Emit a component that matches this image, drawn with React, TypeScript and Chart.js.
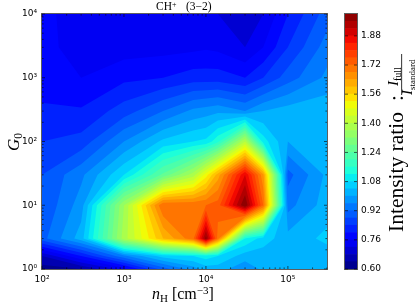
import React, { useEffect, useRef } from "react";
import { Chart, registerables } from "chart.js";

Chart.register(...registerables);

const densities = [100, 300, 1000, 3000, 7000, 10000, 14000, 30000, 50000, 100000, 300000];
const radiation = [1, 1.6, 3, 10, 30, 100, 300, 1000, 3000, 10000];
// rows follow `radiation` (bottom to top), columns follow `densities`
const row1 = [0.62, 0.64, 0.74, 0.9, 0.98, 1.02, 1.02, 0.97, 1.01, 1.01, 1.02];
const row1p6 = [0.68, 0.8, 0.95, 1.06, 1.08, 1.1, 1.08, 1.02, 1.02, 1.02, 1.02];
const row3 = [0.905, 1.02, 1.38, 1.6, 1.71, 1.98, 1.7, 1.12, 1.06, 1.015, 1.05];
const row10 = [0.883, 0.98, 1.36, 1.72, 1.715, 1.72, 1.74, 2.0, 1.72, 0.945, 1.02];
const row30 = [0.88, 0.95, 1.08, 1.25, 1.38, 1.5, 1.62, 1.88, 1.65, 0.905, 1.01];
const row100 = [0.84, 0.855, 0.96, 1.05, 1.08, 1.09, 1.15, 1.4, 1.1, 1.0, 1.01];
const row300 = [0.805, 0.805, 0.86, 0.92, 0.97, 0.98, 0.99, 0.96, 1.0, 1.02, 1.03];
const row1000 = [0.785, 0.76, 0.79, 0.8, 0.82, 0.82, 0.82, 0.8, 0.84, 0.9, 0.97];
const row3000 = [0.775, 0.74, 0.74, 0.745, 0.75, 0.755, 0.75, 0.72, 0.76, 0.84, 0.94];
const row10000 = [0.78, 0.725, 0.73, 0.74, 0.74, 0.74, 0.72, 0.69, 0.72, 0.8, 0.9];
const grid = [row1, row1p6, row3, row10, row30, row100, row300, row1000, row3000, row10000];

const levels = [
  0.6, 0.64, 0.68, 0.72, 0.76, 0.8, 0.84, 0.88, 0.92, 0.96, 1.0, 1.04, 1.08, 1.12, 1.16, 1.2, 1.24, 1.28,
  1.32, 1.36, 1.4, 1.44, 1.48, 1.52, 1.56, 1.6, 1.64, 1.68, 1.72, 1.76, 1.8, 1.84, 1.88, 1.92, 1.96, 2.0,
];
const colorbarTicks = [0.6, 0.76, 0.92, 1.08, 1.24, 1.4, 1.56, 1.72, 1.88];
const xMajor = [100, 1000, 10000, 100000];
const xMinor = [200, 300, 400, 500, 600, 700, 800, 900, 2000, 3000, 4000, 5000, 6000, 7000, 8000, 9000, 20000, 30000, 40000, 50000, 60000, 70000, 80000, 90000, 200000, 300000];
const yMajor = [1, 10, 100, 1000, 10000];
const yMinor = [2, 3, 4, 5, 6, 7, 8, 9, 20, 30, 40, 50, 60, 70, 80, 90, 200, 300, 400, 500, 600, 700, 800, 900, 2000, 3000, 4000, 5000, 6000, 7000, 8000, 9000];
const supers: Record<string, string> = { "0": "⁰", "1": "¹", "2": "²", "3": "³", "4": "⁴", "5": "⁵" };

const SERIF = '"Liberation Serif"';
const SANS = '"DejaVu Sans"';

function ramp(f: number, pts: number[][]) {
  for (let i = 1; i < pts.length; i++) {
    if (f <= pts[i][0]) {
      const t = (f - pts[i - 1][0]) / (pts[i][0] - pts[i - 1][0]);
      return pts[i - 1][1] + t * (pts[i][1] - pts[i - 1][1]);
    }
  }
  return pts[pts.length - 1][1];
}
function jet(f: number): string {
  const r = ramp(f, [[0, 0], [0.35, 0], [0.66, 1], [0.89, 1], [1, 0.5]]) * 255;
  const g = ramp(f, [[0, 0], [0.125, 0], [0.375, 1], [0.64, 1], [0.91, 0], [1, 0]]) * 255;
  const b = ramp(f, [[0, 0.5], [0.11, 1], [0.34, 1], [0.65, 0], [1, 0]]) * 255;
  return `rgb(${Math.round(r)},${Math.round(g)},${Math.round(b)})`;
}
const bandColors = levels.slice(0, -1).map((_, i) => jet((i + 0.5) / (levels.length - 1)));

const contourPlugin = {
  id: "contour",
  beforeDatasetsDraw(chart: any) {
    const { ctx, chartArea: a, scales } = chart;
    const px = densities.map((d) => scales.x.getPixelForValue(d));
    const py = radiation.map((d) => scales.y.getPixelForValue(d));
    ctx.save();
    ctx.fillStyle = bandColors[0];
    ctx.fillRect(a.left, a.top, a.right - a.left, a.bottom - a.top);
    for (let k = 1; k < bandColors.length; k++) {
      const L = levels[k];
      ctx.beginPath();
      for (let j = 0; j < radiation.length - 1; j++) {
        for (let i = 0; i < densities.length - 1; i++) {
          const cx = [px[i], px[i + 1], px[i + 1], px[i]];
          const cy = [py[j], py[j], py[j + 1], py[j + 1]];
          const z = [grid[j][i], grid[j][i + 1], grid[j + 1][i + 1], grid[j + 1][i]];
          const up = z.map((v) => v >= L);
          const cross = (e: number) => {
            const f = (e + 1) % 4;
            const t = (L - z[e]) / (z[f] - z[e]);
            return [cx[e] + t * (cx[f] - cx[e]), cy[e] + t * (cy[f] - cy[e])];
          };
          const add = (pts: number[][]) => {
            pts.forEach((p, n) => (n ? ctx.lineTo(p[0], p[1]) : ctx.moveTo(p[0], p[1])));
            ctx.closePath();
          };
          const count = up.filter(Boolean).length;
          if (count === 0) continue;
          const mean = (z[0] + z[1] + z[2] + z[3]) / 4;
          if (count === 2 && up[0] === up[2] && mean < L) {
            for (let c = 0; c < 4; c++) {
              if (up[c]) add([cross((c + 3) % 4), [cx[c], cy[c]], cross(c)]);
            }
            continue;
          }
          const pts: number[][] = [];
          for (let c = 0; c < 4; c++) {
            if (up[c]) pts.push([cx[c], cy[c]]);
            if (up[c] !== up[(c + 1) % 4]) pts.push(cross(c));
          }
          add(pts);
        }
      }
      ctx.fillStyle = bandColors[k];
      ctx.fill();
    }
    ctx.restore();
  },
};

function runs(ctx: any, x: number, y: number, angle: number, parts: any[]) {
  ctx.save();
  ctx.translate(x, y);
  ctx.rotate(angle);
  ctx.textAlign = "left";
  ctx.textBaseline = "alphabetic";
  let cx = 0;
  for (const [t, style, size, dy] of parts) {
    ctx.font = `${style} ${size}px ${SERIF}`;
    ctx.fillText(t, cx, dy);
    cx += ctx.measureText(t).width;
  }
  ctx.restore();
}

const framePlugin = {
  id: "frame",
  afterDraw(chart: any) {
    const { ctx, chartArea: a, scales } = chart;
    ctx.save();
    ctx.strokeStyle = "#000";
    ctx.lineWidth = 0.6;
    ctx.beginPath();
    const tick = (v: number, len: number, horizontal: boolean) => {
      if (horizontal) {
        const x = scales.x.getPixelForValue(v);
        ctx.moveTo(x, a.bottom); ctx.lineTo(x, a.bottom - len);
        ctx.moveTo(x, a.top); ctx.lineTo(x, a.top + len);
      } else {
        const y = scales.y.getPixelForValue(v);
        ctx.moveTo(a.left, y); ctx.lineTo(a.left + len, y);
        ctx.moveTo(a.right, y); ctx.lineTo(a.right - len, y);
      }
    };
    xMajor.forEach((v) => tick(v, 3, true));
    xMinor.forEach((v) => tick(v, 1.6, true));
    yMajor.forEach((v) => tick(v, 3, false));
    yMinor.forEach((v) => tick(v, 1.6, false));
    ctx.stroke();
    ctx.strokeStyle = "rgba(40,40,40,0.75)";
    ctx.lineWidth = 1;
    ctx.strokeRect(a.left - 0.5, a.top - 0.5, a.right - a.left + 1, a.bottom - a.top + 1);
    ctx.fillStyle = "#000";
    runs(ctx, 156, 10, 0, [
      ["CH", "", 11.5, 0],
      ["+", "", 8, -3.5],
    ]);
    runs(ctx, 186, 10, 0, [["(3−2)", "", 11.5, 0]]);
    runs(ctx, 152, 299, 0, [
      ["n", "italic", 16, 0],
      ["H", "", 11, 2.5],
      [" [cm", "", 16, 0],
      ["−3", "", 11, -5.5],
      ["]", "", 16, 0],
    ]);
    runs(ctx, 19, 151, -Math.PI / 2, [
      ["G", "italic", 17, 0],
      ["0", "", 11.5, 2.5],
    ]);
    ctx.restore();
  },
};

const colorbarLabelPlugin = {
  id: "cblabel",
  afterDraw(chart: any) {
    const { ctx, chartArea: a, scales } = chart;
    ctx.save();
    ctx.strokeStyle = "rgba(40,40,40,0.75)";
    ctx.lineWidth = 1;
    ctx.strokeRect(a.left - 0.5, a.top - 0.5, a.right - a.left + 1, a.bottom - a.top + 1);
    ctx.strokeStyle = "#000";
    ctx.lineWidth = 0.6;
    ctx.beginPath();
    colorbarTicks.forEach((v) => {
      const y = scales.y.getPixelForValue(v);
      ctx.moveTo(a.left, y); ctx.lineTo(a.left + 3, y);
      ctx.moveTo(a.right, y); ctx.lineTo(a.right - 3, y);
    });
    ctx.stroke();
    ctx.fillStyle = "#000";
    runs(ctx, 403, 232, -Math.PI / 2, [["Intensity ratio", "", 21.5, 0]]);
    runs(ctx, 403, 101, -Math.PI / 2, [[":", "", 21.5, 0]]);
    runs(ctx, 398, 86, -Math.PI / 2, [
      ["I", "italic", 15, 0],
      ["full", "", 10, 2.5],
    ]);
    runs(ctx, 412, 95, -Math.PI / 2, [
      ["I", "italic", 15, 0],
      ["standard", "", 9, 2.5],
    ]);
    ctx.fillRect(401.3, 54, 0.8, 41);
    ctx.restore();
  },
};

export default function App() {
  const mainRef = useRef<HTMLCanvasElement>(null);
  const barRef = useRef<HTMLCanvasElement>(null);

  useEffect(() => {
    const axisTicks = (major: number[]) => (scale: any) => {
      scale.ticks = major.map((value) => ({ value, major: true }));
    };
    const label = (v: any) => {
      const e = String(Math.round(Math.log10(Number(v))));
      return "10" + supers[e];
    };
    const main = new Chart(mainRef.current!, {
      type: "scatter",
      data: {
        datasets: [
          {
            data: radiation.flatMap((y, j) => densities.map((x, i) => ({ x, y, v: grid[j][i] }))),
            pointRadius: 0,
          },
        ],
      },
      options: {
        animation: false,
        responsive: false,
        events: [],
        layout: { padding: { top: 14, right: 88, left: 0, bottom: 0 } },
        plugins: { legend: { display: false }, tooltip: { enabled: false } },
        scales: {
          x: {
            type: "logarithmic",
            min: 100,
            max: 300000,
            grid: { display: false, drawTicks: false },
            border: { display: false },
            afterBuildTicks: axisTicks(xMajor),
            afterFit: (s: any) => { s.height = 36; },
            ticks: { callback: label, autoSkip: false, maxRotation: 0, padding: 5, color: "#000", font: { family: SANS, size: 9 } },
          },
          y: {
            type: "logarithmic",
            min: 1,
            max: 10000,
            grid: { display: false, drawTicks: false },
            border: { display: false },
            afterBuildTicks: axisTicks(yMajor),
            afterFit: (s: any) => { s.width = 42; },
            ticks: { callback: label, autoSkip: false, padding: 5, color: "#000", font: { family: SANS, size: 9 } },
          },
        },
      },
      plugins: [contourPlugin, framePlugin],
    } as any);

    const bar = new Chart(barRef.current!, {
      type: "bar",
      data: {
        labels: ["ratio"],
        datasets: bandColors.map((c, i) => ({
          label: levels[i].toFixed(2),
          data: [[levels[i], levels[i + 1]]],
          backgroundColor: c,
          borderWidth: 0,
          barPercentage: 1,
          categoryPercentage: 1,
          grouped: false,
        })),
      },
      options: {
        animation: false,
        responsive: false,
        events: [],
        layout: { padding: { top: 14, right: 0, left: 345, bottom: 36 } },
        plugins: { legend: { display: false }, tooltip: { enabled: false } },
        scales: {
          x: { display: false },
          y: {
            position: "right",
            min: levels[0],
            max: levels[levels.length - 1],
            grid: { display: false, drawTicks: false },
            border: { display: false },
            afterBuildTicks: (s: any) => { s.ticks = colorbarTicks.map((value) => ({ value })); },
            afterFit: (s: any) => { s.width = 58; },
            ticks: { callback: (v: any) => Number(v).toFixed(2), autoSkip: false, padding: 4, color: "#000", font: { family: SANS, size: 9 } },
          },
        },
      },
      plugins: [colorbarLabelPlugin],
    } as any);

    return () => {
      main.destroy();
      bar.destroy();
    };
  }, []);

  const style: React.CSSProperties = { position: "absolute", left: 0, top: 0 };
  return (
    <div style={{ position: "absolute", left: 0, top: 0, width: 415, height: 305, background: "#fff", overflow: "hidden" }}>
      <canvas ref={mainRef} width={415} height={305} style={style} />
      <canvas ref={barRef} width={415} height={305} style={style} />
    </div>
  );
}
